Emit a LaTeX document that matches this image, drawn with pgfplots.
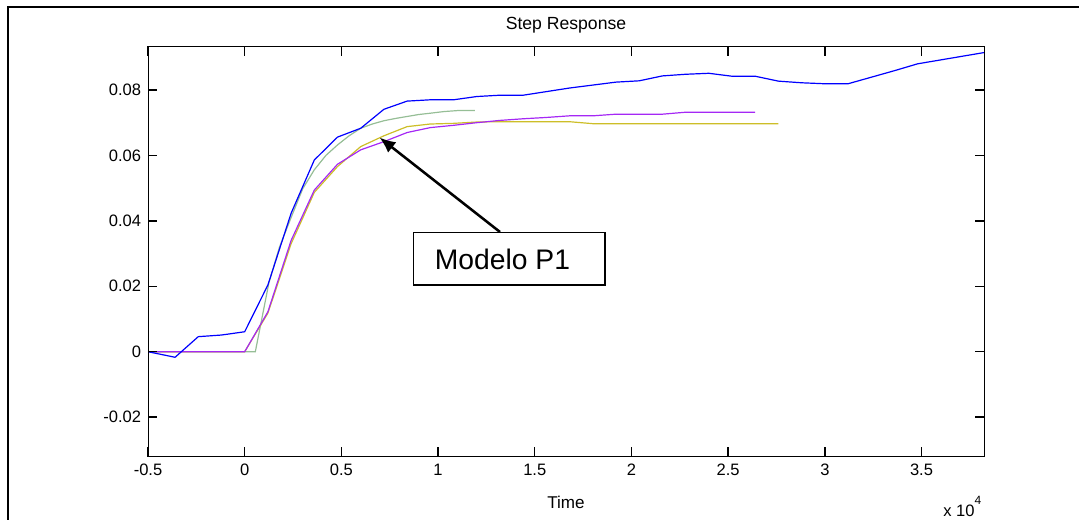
\documentclass[border=0pt]{standalone}
\usepackage{pgfplots}
\pgfplotsset{compat=1.18}
\usepackage{fontspec}
\setmainfont{Liberation Sans}
\usetikzlibrary{arrows.meta}
\definecolor{cblue}{RGB}{0,0,255}
\definecolor{cpurple}{RGB}{165,40,245}
\definecolor{cyellow}{RGB}{205,190,40}
\definecolor{cgreen}{RGB}{150,190,150}
\newcommand\myfs{\fontsize{12.4}{14}\selectfont}
\begin{document}
\begin{tikzpicture}
\useasboundingbox (0,0) rectangle (809.25pt,389.25pt);
\begin{axis}[
  at={(111pt,46.7pt)}, anchor=south west,
  scale only axis, width=627pt, height=307.7pt,
  xmin=-5000, xmax=38230, ymin=-0.0321, ymax=0.0933,
  xtick={-5000,0,5000,10000,15000,20000,25000,30000,35000},
  xticklabels={-0.5,0,0.5,1,1.5,2,2.5,3,3.5},
  ytick={-0.02,0,0.02,0.04,0.06,0.08},
  yticklabels={-0.02,0,0.02,0.04,0.06,0.08},
  scaled x ticks=false, scaled y ticks=false,
  axis on top,
  tick align=inside,
  major tick length=7pt,
  every major tick/.append style={major tick length=7pt},
  tick style={draw=black, line width=1pt},
  axis line style={line width=0.75pt},
  ticklabel style={font=\myfs},
  xticklabel style={inner sep=0pt, yshift=-5pt},
  yticklabel style={inner sep=0pt, xshift=-5pt},
  title={Step Response},
  title style={font=\fontsize{13.2}{15}\selectfont, at={(0.5,1)}, anchor=center, yshift=9.9pt},
  xlabel={Time},
  xlabel style={font=\fontsize{12.8}{15}\selectfont, at={(0.5,0)}, anchor=center, yshift=-34.5pt},
]
% green (fine-sampled model)
\addplot[cgreen, line width=0.9pt] coordinates {
(-5000,0) (550,0) (1250,0.0210) (1800,0.0320) (2400,0.0410) (3000,0.0498)
(3600,0.0556) (4200,0.0600) (4800,0.0632) (5400,0.0660) (6000,0.0683)
(6600,0.0696) (7200,0.0706) (7800,0.0713) (8400,0.0719) (9000,0.0725)
(9600,0.0729) (10300,0.0734) (11000,0.0737) (11900,0.0737)};
% yellow
\addplot[cyellow, line width=0.9pt] coordinates {
(-5000,0) (0,0) (1200,0.0118) (2400,0.0330) (3600,0.0487) (4800,0.0566)
(6000,0.0627) (7200,0.0660) (8400,0.0688) (9600,0.0696) (10800,0.0698)
(12000,0.0702) (13200,0.0703) (14400,0.0703) (15600,0.0703) (16800,0.0703)
(18000,0.0697) (27600,0.0697)};
% purple
\addplot[cpurple, line width=0.9pt] coordinates {
(-5000,0) (0,0) (1200,0.0122) (2400,0.0340) (3600,0.0494) (4800,0.0573)
(6000,0.0617) (7200,0.0642) (8400,0.0670) (9600,0.0685) (10800,0.0692)
(12000,0.0700) (13200,0.0707) (14400,0.0712) (15600,0.0716) (16800,0.0721)
(18000,0.0721) (19200,0.0726) (20400,0.0726) (21600,0.0726) (22800,0.0732)
(26400,0.0732)};
% blue (measured)
\addplot[cblue, line width=0.9pt] coordinates {
(-5000,0) (-3600,-0.0017) (-2400,0.0046) (-1200,0.0051) (0,0.0061)
(1200,0.0204) (2400,0.0423) (3600,0.0586) (4800,0.0656) (6000,0.0683)
(7200,0.0741) (8400,0.0766) (9600,0.0770) (10800,0.0770) (12000,0.0780)
(13200,0.0784) (14400,0.0784) (15600,0.0795) (16800,0.0806) (18000,0.0815)
(19200,0.0824) (20400,0.0828) (21600,0.0843) (22800,0.0848) (24000,0.0851)
(25200,0.0842) (26400,0.0842) (27600,0.0827) (28800,0.0822) (30000,0.0819)
(31200,0.0819) (33600,0.0859) (34800,0.0880) (38400,0.0916)};
\end{axis}
\begin{scope}[x=0.75pt,y=-0.75pt,yshift=389.25pt]
  \draw[line width=1.6pt] (8,7) rectangle (1090,530);
  \draw[line width=1.9pt, -{Latex[length=12pt,width=10pt]}] (500,232) -- (379.5,137.5);
  \draw[line width=1.1pt, fill=white] (413.3,232.7) rectangle (605,285);
  \node[font=\fontsize{21.2}{24}\selectfont, inner sep=0pt] at (502.5,259.5) {Modelo P1};
  \node[font=\myfs, inner sep=0pt, anchor=base west] at (943,516.5) {x 10\raisebox{0.75em}{\fontsize{9}{10}\selectfont 4}};
\end{scope}
\end{tikzpicture}
\end{document}
